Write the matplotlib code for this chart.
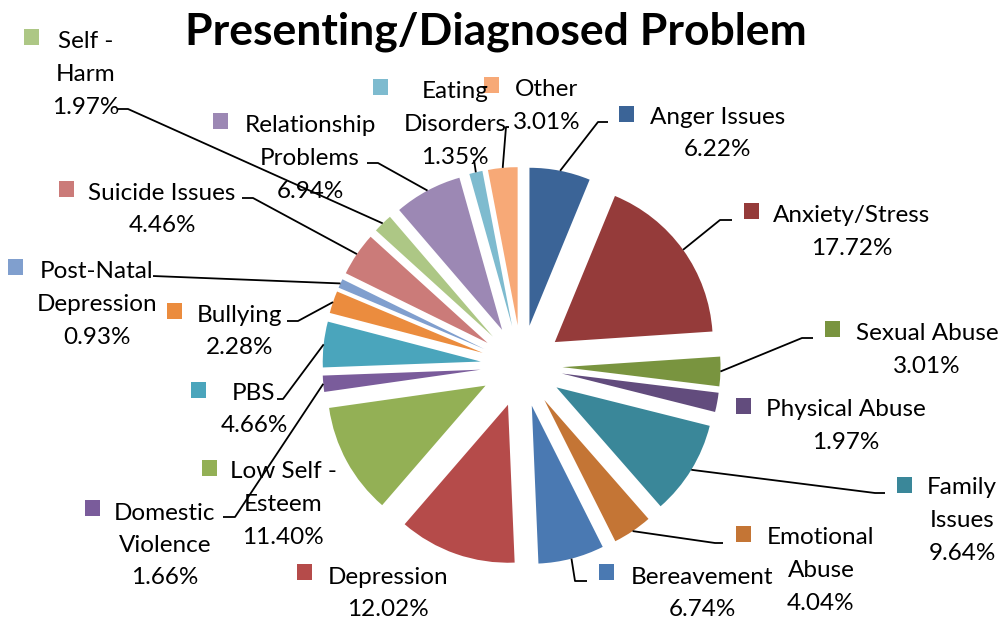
import matplotlib
matplotlib.use("Agg")
import matplotlib.pyplot as plt
import numpy as np

plt.rcParams['font.family'] = ['Lato', 'DejaVu Sans']

# data
problems = ['Anger Issues', 'Anxiety/Stress', 'Sexual Abuse', 'Physical Abuse',
            'Family Issues', 'Emotional Abuse', 'Bereavement', 'Depression',
            'Low Self-Esteem', 'Domestic Violence', 'PBS', 'Bullying',
            'Post-Natal Depression', 'Suicide Issues', 'Self-Harm',
            'Relationship Problems', 'Eating Disorders', 'Other']
percent = [6.22, 17.72, 3.01, 1.97, 9.64, 4.04, 6.74, 12.02, 11.40, 1.66,
           4.66, 2.28, 0.93, 4.46, 1.97, 6.94, 1.35, 3.01]
label_lines = [['Anger Issues'], ['Anxiety/Stress'], ['Sexual Abuse'], ['Physical Abuse'],
               ['Family', 'Issues'], ['Emotional', 'Abuse'], ['Bereavement'], ['Depression'],
               ['Low Self -', 'Esteem'], ['Domestic', 'Violence'], ['PBS'], ['Bullying'],
               ['Post-Natal', 'Depression'], ['Suicide Issues'], ['Self -', 'Harm'],
               ['Relationship', 'Problems'], ['Eating', 'Disorders'], ['Other']]
colors = ['#3B6497', '#953B3A', '#79943F', '#624C7D', '#3A8799', '#C47535',
          '#4A79B2', '#B54B4A', '#93B055', '#7A5C9B', '#4AA5BC', '#EB8C3E',
          '#809FCE', '#CB7B79', '#ADC785', '#9C88B4', '#7EBBCF', '#F7A977']

# layout (pixels from top-left)
cx, cy, R, EXPL = 521.5, 366, 158, 41
# text block centre x, first line y, legend square x,y
lab_xy = [(718, 117), (852, 216), (927, 334), (846, 410), (962, 488), (821, 538),
          (702, 577), (388, 577), (283, 472), (165, 513), (254, 393), (240, 315),
          (97, 272), (162, 193), (86, 42), (310, 126), (455, 92), (547, 90)]
sq_xy = [(627, 114), (752, 211), (833, 329), (744, 406), (905, 485), (744, 534),
         (607, 572), (305, 572), (210, 468), (93, 508), (199, 390), (175, 311),
         (16, 267), (67, 189), (32, 37), (221, 121), (381, 87), (492, 85)]
# leader line: end near label, elbow (None = no line)
leaders = [((608, 122), (598, 122)), ((732, 220), (720, 220)), ((813, 338), (802, 338)), None,
           ((885, 493), (875, 493)), ((723, 543), (715, 543)), ((587, 581), (575, 581)), None,
           None, ((223, 517), (235, 517)), ((277, 399), (283, 399)), ((287, 321), (298, 321)),
           ((153, 276), (153, 276)), ((242, 198), (253, 198)), ((118, 109), (128, 109)),
           ((367, 163), (378, 163)), ((474, 160), (474, 160)), ((509, 127), (506, 127))]
LINE_H = 32.5
FS = 17.5

fig = plt.figure(figsize=(10.03, 6.23), dpi=100)
ax = fig.add_axes([0, 0, 1, 1])
wedges, _ = ax.pie(percent, colors=colors, startangle=-90, counterclock=True,
                   radius=R, center=(cx, cy), explode=[EXPL] * len(percent),
                   frame=True, wedgeprops=dict(linewidth=0))
ax.set_xlim(0, 1003)
ax.set_ylim(623, 0)
ax.set_aspect('equal')
ax.axis('off')

ax.text(496, 32, 'Presenting/Diagnosed Problem', ha='center', va='center',
        fontsize=32, fontweight='bold', color='black')

for i, w in enumerate(wedges):
    tx, ty = lab_xy[i]
    lines = label_lines[i] + ['%.2f%%' % percent[i]]
    for k, s in enumerate(lines):
        ax.text(tx, ty + k * LINE_H, s, ha='center', va='center', fontsize=FS, color='black')
    sx, sy = sq_xy[i]
    ax.add_patch(plt.Rectangle((sx - 7.5, sy - 8), 15, 16, facecolor=colors[i], edgecolor='none'))
    if leaders[i] is not None:
        th = np.deg2rad((w.theta1 + w.theta2) / 2)
        ax_, ay_ = w.center[0] + w.r * np.cos(th), w.center[1] + w.r * np.sin(th)
        (ex, ey), (bx, by) = leaders[i]
        ax.plot([ex, bx, ax_], [ey, by, ay_], color='black', lw=1.3, solid_capstyle='butt')

fig.savefig('out.png', dpi=100)
